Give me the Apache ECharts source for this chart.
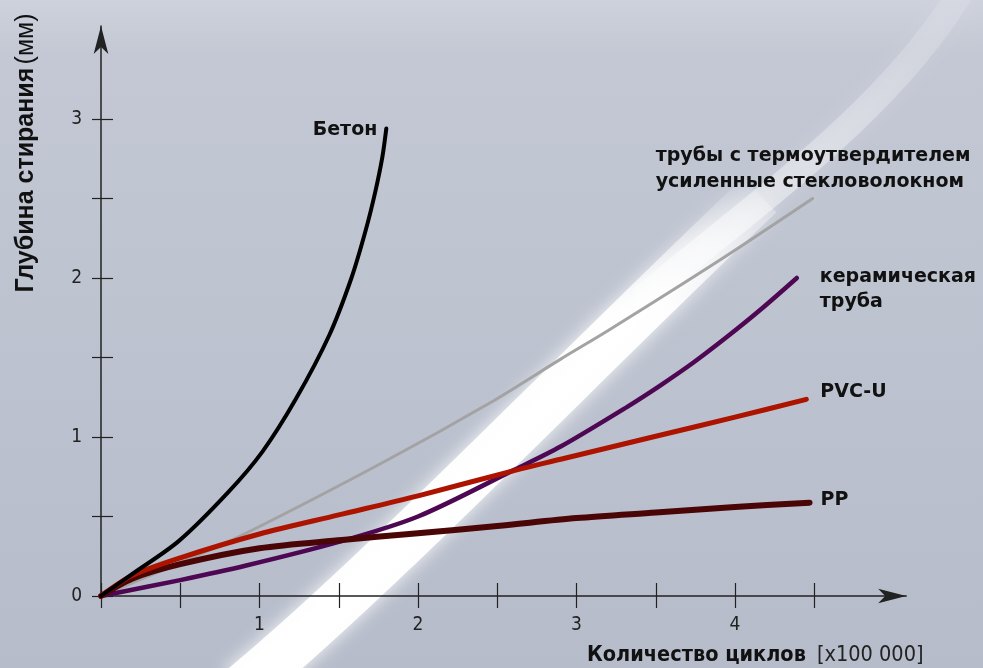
<!DOCTYPE html>
<html>
<head>
<meta charset="utf-8">
<script src="https://cdn.jsdelivr.net/npm/echarts@6/dist/echarts.min.js"></script>
<style>
html,body{margin:0;padding:0;background:#b8bdcb;}
#chart{width:983px;height:668px;}
</style>
</head>
<body>
<div id="chart"></div>
<script>
// ---- data (x in units of 100 000 cycles, y in mm) ----
const xTickValues = [0, 0.5, 1, 1.5, 2, 2.5, 3, 3.5, 4, 4.5];
const xLabelValues = [1, 2, 3, 4];
const yTickValues = [0, 0.5, 1, 1.5, 2, 2.5, 3];
const yLabelValues = [0, 1, 2, 3];

const betonData = [[0,0],[0.2,0.14],[0.49,0.345],[0.8,0.65],[1.02,0.91],[1.23,1.24],[1.44,1.64],[1.58,2.0],[1.67,2.3],[1.73,2.54],[1.775,2.76],[1.80,2.94]];
const grpData = [[0,0],[0.5,0.21],[0.865,0.37],[1.76,0.83],[2.48,1.23],[2.9,1.49],[3.2,1.67],[3.9,2.11],[4.49,2.5]];
const ceramicData = [[0,0],[0.5,0.1],[0.91,0.19],[1.5,0.34],[2,0.5],[2.6,0.79],[2.9,0.94],[3.32,1.19],[3.53,1.325],[3.74,1.47],[3.95,1.63],[4.16,1.8],[4.39,2.0]];
const pvcData = [[0,0],[0.2,0.13],[0.5,0.24],[1,0.39],[1.5,0.51],[2,0.63],[2.63,0.795],[2.9,0.86],[3.5,1.005],[4,1.125],[4.45,1.237]];
const ppData = [[0,0],[0.2,0.11],[0.5,0.2],[1,0.3],[1.52,0.352],[2,0.395],[2.5,0.44],[3,0.49],[3.5,0.525],[4,0.56],[4.47,0.587]];

const labelBeton = 'Бетон';
const labelGrp = 'трубы с термоутвердителем\nусиленные стекловолокном';
const labelCeramic = 'керамическая\nтруба';
const labelPvc = 'PVC-U';
const labelPp = 'PP';
const yName = ['Глубина стирания', '(мм)'];
const xName = ['Количество циклов', '[x100 000]'];

const chart = echarts.init(document.getElementById('chart'));
const labFont = {fontFamily:'DejaVu Sans, sans-serif', fontWeight:'bold', fontSize:19, color:'#111'};
const numFont = {fontFamily:'DejaVu Sans Condensed, Liberation Sans Narrow, sans-serif', fontWeight:'normal', fontSize:19, color:'#222'};

function lineSeries(name, data, color, width, z, endLabel) {
  return {
    name: name, type:'line', data: data, smooth: 0.3, showSymbol:false, z: z,
    lineStyle:{color: color, width: width, cap:'round', join:'round'},
    endLabel: Object.assign({show:true, formatter: name}, labFont, endLabel),
    animation:false
  };
}
const W = 'rgba(255,255,255,';
const option = {
  animation:false,
  grid:{left:101, right:76.8, top:26, bottom:72},
  graphic:[
    {type:'rect', z:-30, shape:{x:0,y:0,width:983,height:668},
     style:{fill:{type:'linear',x:0,y:0,x2:0,y2:1,colorStops:[{offset:0,color:'#ced2dc'},{offset:0.08,color:'#c3c8d4'},{offset:1,color:'#b6bcca'}]}}},
    // soft upper continuation of the light streak
    {type:'bezierCurve', z:-20, shape:{x1:640,y1:300,cpx1:760,cpy1:200,cpx2:890,cpy2:110,x2:962,y2:-10},
     style:{stroke:{type:'linear',x:0,y:0,x2:0,y2:1,colorStops:[{offset:0,color:W+'0.08)'},{offset:0.45,color:W+'0.3)'},{offset:0.8,color:W+'0.5)'},{offset:1,color:W+'0.2)'}]},
       lineWidth:26, fill:null, shadowBlur:18, shadowColor:W+'0.45)', lineCap:'butt'}},
    // bright lower part of the streak
    {type:'bezierCurve', z:-19, shape:{x1:240,y1:690,cpx1:380,cpy1:575,cpx2:600,cpy2:345,x2:760,y2:195},
     style:{stroke:{type:'linear',x:0,y:0,x2:0,y2:1,colorStops:[{offset:0,color:W+'0)'},{offset:0.15,color:W+'0.55)'},{offset:0.26,color:W+'0.95)'},{offset:1,color:W+'0.98)'}]},
       lineWidth:48, fill:null, shadowBlur:18, shadowColor:W+'0.9)', lineCap:'butt'}},
    {type:'text', z:10, x:26, y:153, rotation:Math.PI/2,
     style:{text:'{b|'+yName[0]+'} {n|'+yName[1]+'}', align:'center', verticalAlign:'middle',
       rich:{b:{fontFamily:'Liberation Sans, Arial, sans-serif', fontWeight:'bold', fontSize:25, fill:'#111'},
             n:{fontFamily:'Liberation Sans, Arial, sans-serif', fontWeight:'normal', fontSize:25, fill:'#111'}}}},
    {type:'text', z:10, x:587, y:655,
     style:{text:xName[0], align:'left', verticalAlign:'middle',
       fontFamily:'DejaVu Sans Condensed, sans-serif', fontWeight:'bold', fontSize:21.5, fill:'#111'}},
    {type:'text', z:10, x:817, y:655,
     style:{text:xName[1], align:'left', verticalAlign:'middle',
       fontFamily:'DejaVu Sans Condensed, sans-serif', fontWeight:'normal', fontSize:21.5, fill:'#222'}}
  ],
  xAxis:[
    {type:'value', min:0, max:5.08, position:'bottom',
     axisLine:{show:true, symbol:['none','arrow'], symbolSize:[11,28], lineStyle:{color:'#222', width:1.5}},
     axisTick:{show:true, inside:true, length:13, customValues:xTickValues, lineStyle:{color:'#222', width:1.2}},
     axisLabel:Object.assign({show:true, margin:20, customValues:xLabelValues}, numFont),
     splitLine:{show:false}},
    {type:'value', min:0, max:5.08, position:'bottom',
     axisLine:{show:false},
     axisTick:{show:true, inside:false, length:12, customValues:xTickValues, lineStyle:{color:'#222', width:1.2}},
     axisLabel:{show:false}, splitLine:{show:false}}
  ],
  yAxis:[
    {type:'value', min:0, max:3.585, position:'left',
     axisLine:{show:true, symbol:['none','arrow'], symbolSize:[11,28], lineStyle:{color:'#222', width:1.5}},
     axisTick:{show:true, inside:true, length:12, customValues:yTickValues, lineStyle:{color:'#222', width:1.2}},
     axisLabel:Object.assign({show:true, margin:19, customValues:yLabelValues}, numFont),
     splitLine:{show:false}},
    {type:'value', min:0, max:3.585, position:'left',
     axisLine:{show:false},
     axisTick:{show:true, inside:false, length:9, customValues:yTickValues, lineStyle:{color:'#222', width:1.2}},
     axisLabel:{show:false}, splitLine:{show:false}}
  ],
  series:[
    lineSeries(labelGrp, grpData, '#a3a3a3', 3, 2, {align:'left', verticalAlign:'middle', offset:[-165,-29], lineHeight:26}),
    lineSeries(labelCeramic, ceramicData, '#4e0752', 4.5, 3, {align:'left', verticalAlign:'middle', offset:[15,11.5], lineHeight:25}),
    lineSeries(labelPp, ppData, '#4a0606', 6, 4, {align:'left', verticalAlign:'middle', offset:[3,-3]}),
    lineSeries(labelPvc, pvcData, '#ac1400', 5, 5, {align:'left', verticalAlign:'middle', offset:[6,-7]}),
    lineSeries(labelBeton, betonData, '#000000', 4, 6, {align:'right', verticalAlign:'middle', offset:[-17,2]})
  ]
};
chart.setOption(option);
</script>
</body>
</html>
